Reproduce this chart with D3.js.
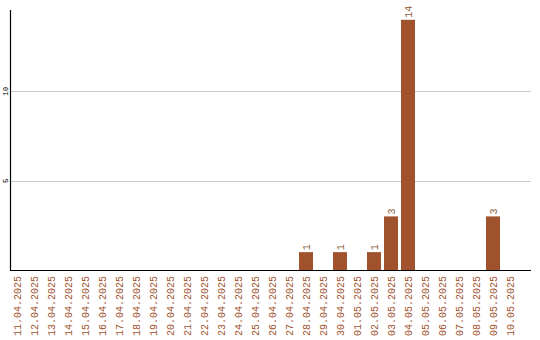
<!doctype html>
<html>
<head>
<style>
  body { margin: 0; background: #fff; }
  text { font-family: "Liberation Mono", monospace; }
</style>
<script src="https://cdnjs.cloudflare.com/ajax/libs/d3/7.8.5/d3.min.js"></script>
</head>
<body>
<div id="chart"></div>
<script>
  // dates and counts
  var dates = ["11.04.2025","12.04.2025","13.04.2025","14.04.2025","15.04.2025","16.04.2025",
               "17.04.2025","18.04.2025","19.04.2025","20.04.2025","21.04.2025","22.04.2025",
               "23.04.2025","24.04.2025","25.04.2025","26.04.2025","27.04.2025","28.04.2025",
               "29.04.2025","30.04.2025","01.05.2025","02.05.2025","03.05.2025","04.05.2025",
               "05.05.2025","06.05.2025","07.05.2025","08.05.2025","09.05.2025","10.05.2025"];
  var counts = [0,0,0,0,0,0,0,0,0,0,0,0,0,0,0,0,0,1,0,1,0,1,3,14,0,0,0,0,3,0];
  var yTicks = [5, 10];

  var width = 540, height = 340;
  var mLeft = 10, mRight = 531, mTop = 10, mBottom = 270;
  var barColor = "#a0522d";

  var svg = d3.select("#chart").append("svg")
              .attr("width", width)
              .attr("height", height);

  // 17px per day, bar 14px wide at start of its slot
  var x = d3.scaleBand().domain(dates)
            .range([mLeft, mLeft + 17 * dates.length - 3])
            .paddingInner(3 / 17).paddingOuter(0).align(0);
  var bw = x.bandwidth();

  var y = d3.scaleLinear().domain([0, 14.55]).range([mBottom, mTop]);

  // grid lines
  svg.selectAll(".grid")
     .data(yTicks)
     .enter().append("line")
     .attr("x1", mLeft).attr("x2", mRight)
     .attr("y1", function(d) { return Math.round(y(d)) + 0.5; })
     .attr("y2", function(d) { return Math.round(y(d)) + 0.5; })
     .attr("stroke", "#c8c8c8");

  // y tick labels, rotated
  svg.selectAll(".ylab")
     .data(yTicks)
     .enter().append("text")
     .attr("transform", function(d) { return "translate(8," + y(d) + ") rotate(-90)"; })
     .attr("text-anchor", "middle")
     .attr("font-size", "7.5px")
     .attr("fill", "#000")
     .text(function(d) { return d; });

  // bars
  var data = dates.map(function(d, i) { return {date: d, n: counts[i]}; });
  var nonZero = data.filter(function(d) { return d.n > 0; });
  svg.selectAll(".bar")
     .data(nonZero)
     .enter().append("rect")
     .attr("x", function(d) { return x(d.date); })
     .attr("y", function(d) { return y(d.n); })
     .attr("width", bw)
     .attr("height", function(d) { return mBottom - y(d.n); })
     .attr("fill", barColor);

  // value labels
  svg.selectAll(".val")
     .data(nonZero)
     .enter().append("text")
     .attr("transform", function(d) {
       return "translate(" + (x(d.date) + bw / 2 + 3.5) + "," + (y(d.n) - 2) + ") rotate(-90)";
     })
     .attr("text-anchor", "start")
     .attr("font-size", "10px")
     .attr("fill", "#8b5a3c")
     .text(function(d) { return d.n; });

  // axes lines
  svg.append("line").attr("x1", mLeft + 0.5).attr("x2", mLeft + 0.5)
     .attr("y1", mTop).attr("y2", mBottom + 1).attr("stroke", "#000").attr("stroke-width", 1.2);
  svg.append("line").attr("x1", mLeft).attr("x2", mRight)
     .attr("y1", mBottom + 0.5).attr("y2", mBottom + 0.5).attr("stroke", "#000").attr("stroke-width", 1.2);

  // x labels
  svg.selectAll(".xlab")
     .data(dates)
     .enter().append("text")
     .attr("transform", function(d) {
       return "translate(" + (x(d) + bw / 2 + 3.5) + ",276) rotate(-90)";
     })
     .attr("text-anchor", "end")
     .attr("font-size", "10px")
     .attr("fill", barColor)
     .text(function(d) { return d; });
</script>
</body>
</html>
